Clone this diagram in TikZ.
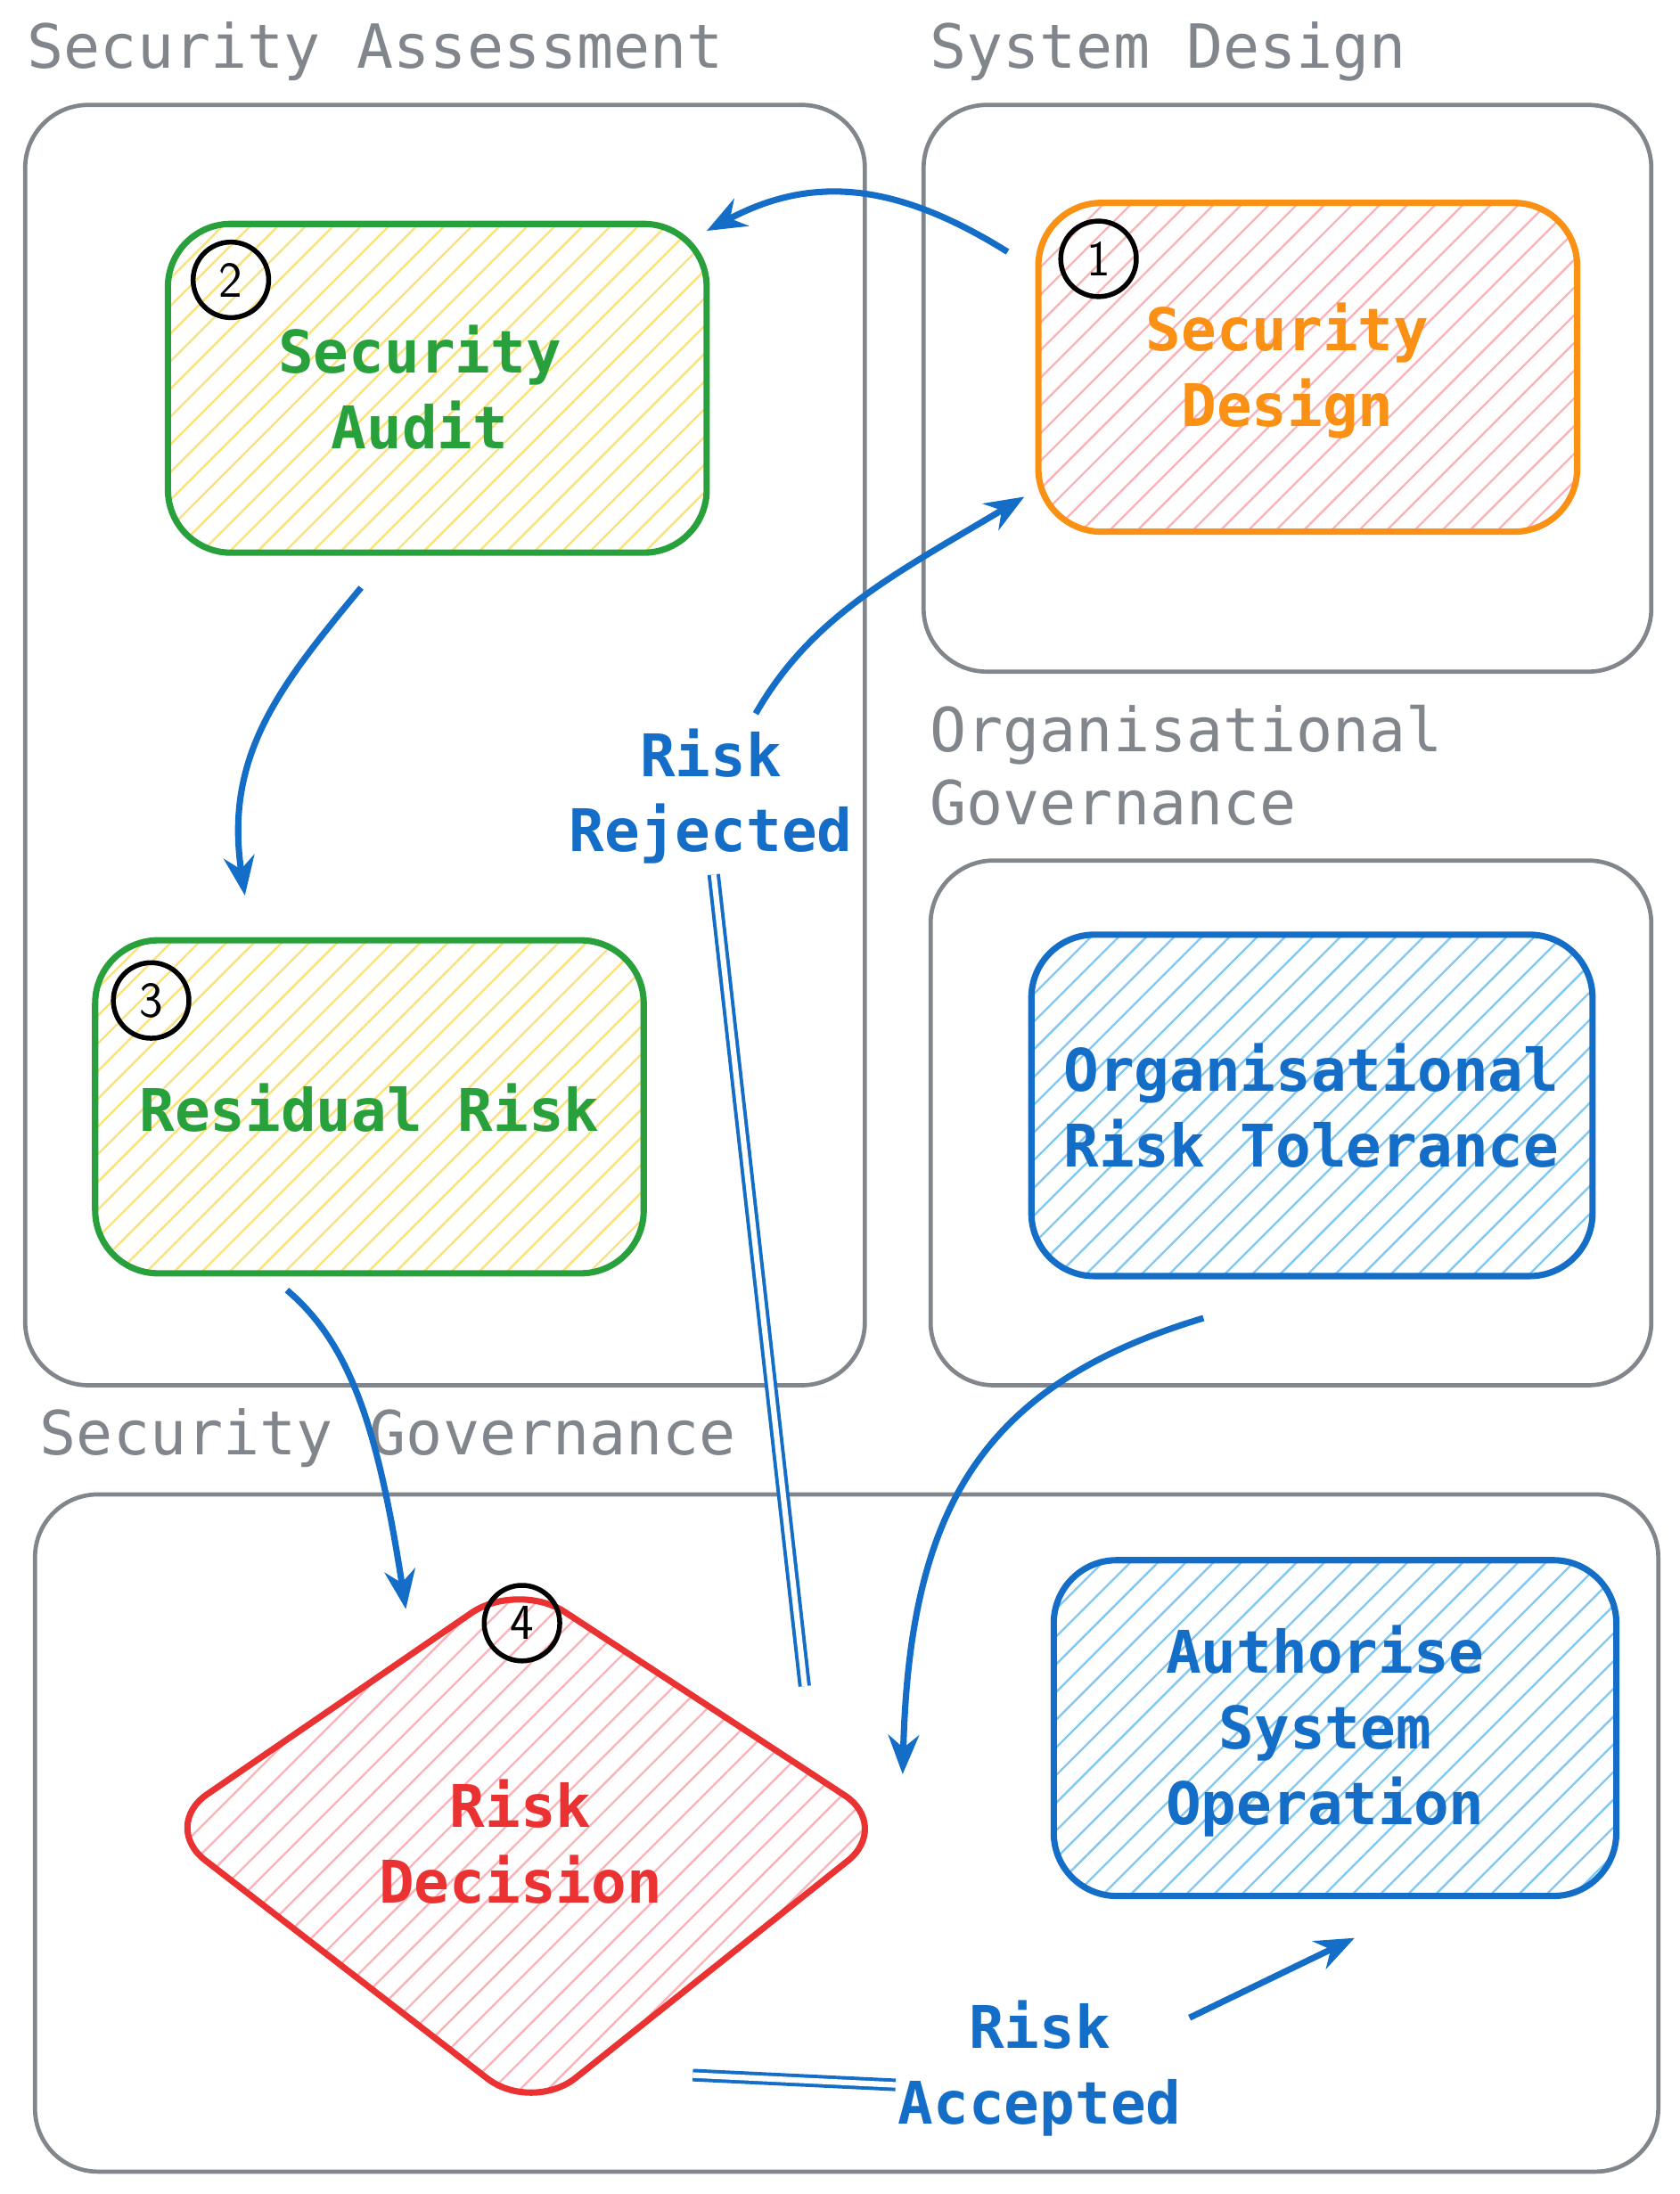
\documentclass[tikz,border=0pt]{standalone}
\usepackage{fontspec}
\setmonofont{DejaVu Sans Mono}
\usetikzlibrary{patterns.meta,arrows.meta,shapes.geometric}
\definecolor{grp}{RGB}{128,134,140}
\definecolor{gfr}{RGB}{40,160,60}
\definecolor{ofr}{RGB}{250,145,20}
\definecolor{bfr}{RGB}{20,110,200}
\definecolor{rfr}{RGB}{235,50,50}
\definecolor{yh}{RGB}{250,225,120}
\definecolor{ph}{RGB}{250,180,185}
\definecolor{bh}{RGB}{130,200,240}
\tikzset{
 grpbox/.style={draw=grp,line width=3pt,rounded corners=45pt},
 grptitle/.style={anchor=west,text=grp,font=\fontsize{43.5}{52}\ttfamily,align=left},
 box/.style={line width=4.5pt,rounded corners=45pt},
 hatch/.style={pattern={Lines[angle=45,distance=14pt,line width=1.5pt]},pattern color=#1},
 lbl/.style={font=\fontsize{42}{54}\ttfamily\bfseries,align=center},
 num/.style={circle,draw=black,line width=3.5pt,minimum size=54pt,inner sep=0pt,font=\fontsize{36}{36}\sffamily},
 arr/.style={draw=bfr,line width=4.5pt,-{Stealth[length=28pt,width=22pt]}},
 dbl/.style={draw=bfr,line width=2.5pt,double=white,double distance=4pt}
}
\begin{document}
\begin{tikzpicture}[x=1pt,y=-1pt]
\useasboundingbox (0,0) rectangle (1200,1568);
% groups
\draw[grpbox] (18,75) rectangle (618,990);
\node[grptitle] at (16,37) {Security Assessment};
\draw[grpbox] (660,75) rectangle (1180,480);
\node[grptitle] at (661,37) {System Design};
\draw[grpbox] (665,615) rectangle (1180,990);
\node[grptitle] at (661,547) {Organisational\\Governance};
\draw[grpbox] (25,1068) rectangle (1185,1552);
\node[grptitle] at (25,1028) {Security Governance};
% nodes
\draw[box,draw=gfr,hatch=yh] (120,160) rectangle (505,395);
\node[lbl,text=gfr] (audit) at (300,277) {Security\\ Audit};
\node[num] (n2) at (165,200) {2};
\draw[box,draw=gfr,hatch=yh] (68,672) rectangle (460,910);
\node[lbl,text=gfr] (resid) at (264,792) {Residual Risk};
\node[num] (n3) at (108,715) {3};
\draw[box,draw=ofr,hatch=ph] (742,145) rectangle (1127,380);
\node[lbl,text=ofr] (sdes) at (920,265) {Security\\ Design};
\node[num] (n1) at (785,185) {1};
\draw[box,draw=bfr,hatch=bh] (737,668) rectangle (1138,912);
\node[lbl,text=bfr] (org) at (937,790) {Organisational\\Risk Tolerance};
\draw[box,draw=bfr,hatch=bh] (753,1115) rectangle (1155,1355);
\node[lbl,text=bfr] (auth) at (947,1237) {Authorise\\ System\\ Operation};
\draw[line width=4.5pt,draw=rfr,hatch=ph,rounded corners=40pt] (115,1305) -- (370,1130) -- (637,1305) -- (380,1510) -- cycle;
\node[lbl,text=rfr] (dec) at (372,1316) {Risk\\ Decision};
\node[num] (n4) at (373,1160) {4};
% labels
\node[lbl,text=bfr] (rej) at (508,569) {Risk\\Rejected};
\node[lbl,text=bfr] (acc) at (743,1478) {Risk\\Accepted};
% coordinates
\coordinate (a1) at (720,180); \coordinate (a2) at (505,165);
\coordinate (b1) at (258,420); \coordinate (b2) at (175,640);
\coordinate (c1) at (205,922); \coordinate (c2) at (290,1150);
\coordinate (d1) at (860,942); \coordinate (d2) at (645,1268);
\coordinate (e1) at (575,1205); \coordinate (e2) at (510,625);
\coordinate (f1) at (540,510); \coordinate (f2) at (732,355);
\coordinate (g1) at (495,1483); \coordinate (g2) at (640,1490);
\coordinate (h1) at (850,1442); \coordinate (h2) at (968,1385);
% connectors
\draw[arr] (a1) .. controls (640,130) and (580,125) .. (a2);
\draw[arr] (b1) .. controls (200,490) and (160,540) .. (b2);
\draw[arr] (c1) .. controls (250,960) and (270,1020) .. (c2);
\draw[arr] (d1) .. controls (700,990) and (650,1080) .. (d2);
\draw[dbl] (e1) -- (e2);
\draw[arr] (f1) .. controls (580,440) and (640,410) .. (f2);
\draw[dbl] (g1) -- (g2);
\draw[arr] (h1) -- (h2);
\end{tikzpicture}
\end{document}
